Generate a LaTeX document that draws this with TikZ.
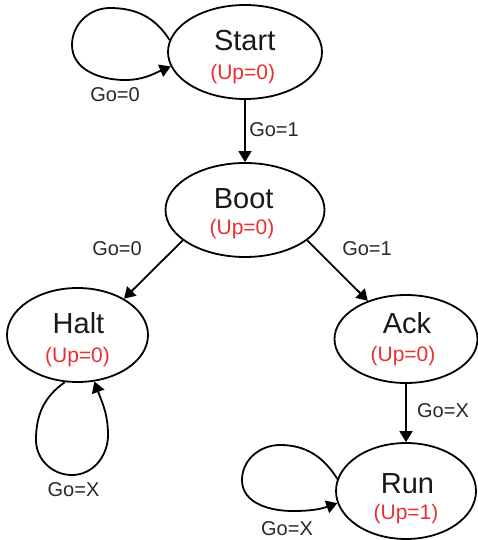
\documentclass[tikz,border=0pt]{standalone}
\usepackage{fontspec}
\setmainfont{Liberation Sans}
\usetikzlibrary{shapes.geometric,arrows.meta}
\definecolor{upred}{RGB}{232,48,48}
\definecolor{lbl}{RGB}{40,40,40}
\begin{document}
\begin{tikzpicture}[x=1pt,y=1pt,
  stateell/.style={draw=black, line width=1.8pt, ellipse, inner sep=0pt},
  nm/.style={anchor=base, inner sep=0pt, font=\fontsize{29}{30}\selectfont, text=black!90},
  up/.style={anchor=base, inner sep=0pt, font=\fontsize{21}{22}\selectfont, text=upred},
  lab/.style={anchor=base, inner sep=0pt, font=\fontsize{20}{21}\selectfont, text=lbl},
  edge/.style={line width=1.8pt, -{Triangle[length=11pt,width=13pt]}}
]
\useasboundingbox (0,0) rectangle (478,-540);
% states
\node[stateell, minimum width=154pt, minimum height=94pt] (Start) at (245,-52) {};
\node[stateell, minimum width=159pt, minimum height=94pt] (Boot) at (245,-210) {};
\node[stateell, minimum width=141pt, minimum height=94pt] (Halt) at (77.5,-335) {};
\node[stateell, minimum width=143pt, minimum height=88pt] (Ack) at (406,-339) {};
\node[stateell, minimum width=140pt, minimum height=96pt] (Run) at (406,-491) {};
% state texts
\node[nm] (startN) at (244.7,-51) {Start};
\node[up] (startU) at (242.7,-80) {(Up=0)};
\node[nm] (bootN) at (243.7,-208) {Boot};
\node[up] (bootU) at (242,-234) {(Up=0)};
\node[nm] (haltN) at (78.5,-333) {Halt};
\node[up] (haltU) at (77.5,-362) {(Up=0)};
\node[nm] (ackN) at (407,-333) {Ack};
\node[up] (ackU) at (403,-361) {(Up=0)};
\node[nm] (runN) at (407.5,-493) {Run};
\node[up] (runU) at (406,-519) {(Up=1)};
% edges
\draw[edge] (Start) -- (Boot);
\draw[edge] (Boot.206) -- (Halt.38);
\draw[edge] (Boot.334) -- (Ack.135);
\draw[edge] (Ack) -- (Run);
% self loops
\draw[edge] (Start.171) to[out=122,in=0] (110,-8) to[out=180,in=90] (72,-45)
  to[out=-90,in=180] (125,-80) to[out=0,in=203] (Start.191);
\draw[edge] (Halt.255) to[out=215,in=90] (36,-440) to[out=-90,in=180] (72,-475)
  to[out=0,in=-90] (108,-435) to[out=90,in=290] (Halt.290);
\draw[edge] (Run.170) to[out=122,in=0] (280,-445) to[out=180,in=90] (242,-480)
  to[out=-90,in=180] (293,-511) to[out=0,in=200] (Run.190);
% labels
\node[lab] (l1) at (115,-102) {Go=0};
\node[lab] (l2) at (274,-137) {Go=1};
\node[lab] (l3) at (117,-255) {Go=0};
\node[lab] (l4) at (367,-255) {Go=1};
\node[lab] (l5) at (73.5,-496) {Go=X};
\node[lab] (l6) at (443,-417) {Go=X};
\node[lab] (l7) at (287,-535) {Go=X};
\end{tikzpicture}
\end{document}
